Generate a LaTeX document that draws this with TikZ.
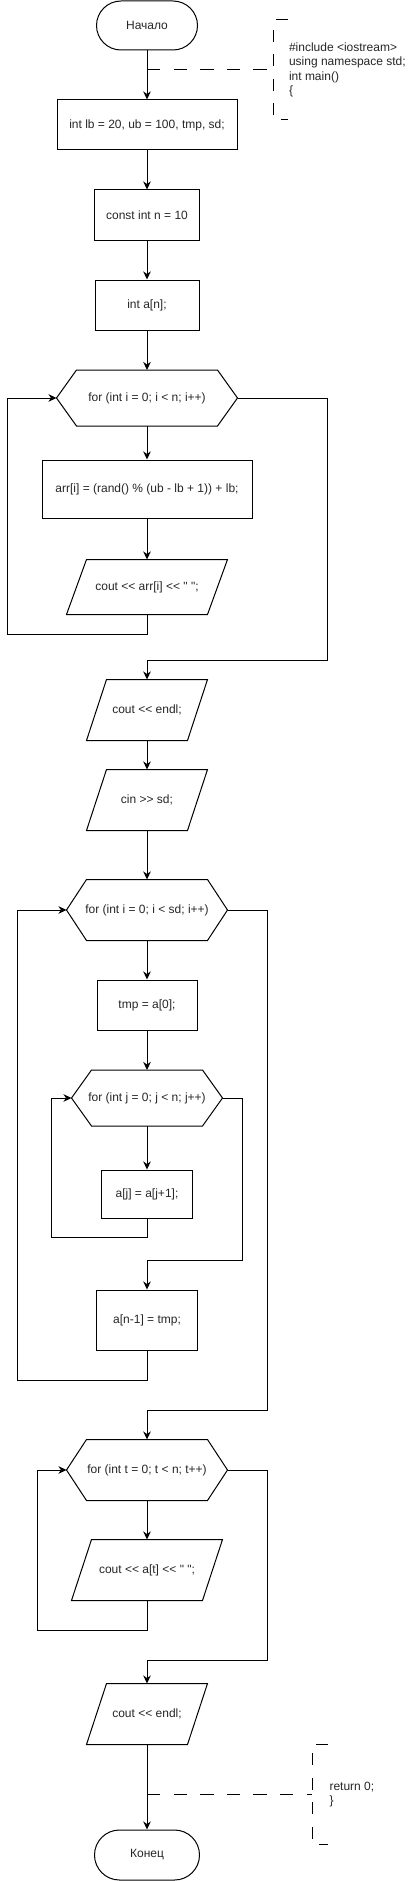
\documentclass[tikz,border=0pt]{standalone}
\usepackage{fontspec}
\setmainfont{Liberation Sans}[Ligatures=TeXOff]
\usetikzlibrary{arrows.meta,shapes.misc}
\newcommand{\hexoutline}[1]{\draw ([xshift=20pt]#1.north west) -- ([xshift=-20pt]#1.north east) -- (#1.east) -- ([xshift=-20pt]#1.south east) -- ([xshift=20pt]#1.south west) -- (#1.west) -- cycle;}
\newcommand{\paraoutline}[1]{\draw ([xshift=20pt]#1.north west) -- (#1.north east) -- ([xshift=-20pt]#1.south east) -- (#1.south west) -- cycle;}
\begin{document}
\begin{tikzpicture}[x=1pt,y=-1pt,line width=1pt,
  every node/.style={font=\fontsize{12}{14.5}\selectfont,inner sep=0pt,text=black!85},
  procbox/.style={draw,rectangle},
  frame/.style={rectangle},
  term/.style={draw,rounded rectangle},
  flow/.style={-{Stealth[length=8pt,width=7.5pt,inset=2.5pt]}},
  commentline/.style={dash pattern=on 13.3pt off 13.3pt},
  bracket/.style={dash pattern=on 12pt off 12.5pt}]
\useasboundingbox (0,0) rectangle (407,1881);

% nodes
\node[term,minimum width=101pt,minimum height=49pt] (start) at (147,25.5) {Начало};
\node[procbox,minimum width=180pt,minimum height=50pt] (b1) at (147,125) {int lb = 20, ub = 100, tmp, sd;};
\node[procbox,minimum width=105pt,minimum height=50pt] (b2) at (147,215) {const int n = 10};
\node[procbox,minimum width=104pt,minimum height=50pt] (b3) at (147,305) {int a[n];};
\node[frame,minimum width=180pt,minimum height=55pt] (h1) at (147,398) {for (int i = 0; i < n; i++)};
\node[procbox,minimum width=210pt,minimum height=58pt] (b4) at (147,489) {arr[i] = (rand() \% (ub - lb + 1)) + lb;};
\node[frame,minimum width=160pt,minimum height=54pt] (p1) at (147,587) {cout << arr[i] << " ";};
\node[frame,minimum width=120pt,minimum height=60pt] (p2) at (147,710) {cout << endl;};
\node[frame,minimum width=120pt,minimum height=60pt] (p3) at (147,800) {cin >> sd;};
\node[frame,minimum width=160pt,minimum height=60pt] (h2) at (147,910) {for (int i = 0; i < sd; i++)};
\node[procbox,minimum width=100pt,minimum height=50pt] (b5) at (147,1005) {tmp = a[0];};
\node[frame,minimum width=150pt,minimum height=55pt] (h3) at (147,1098) {for (int j = 0; j < n; j++)};
\node[procbox,minimum width=91pt,minimum height=48pt] (b6) at (147,1194) {a[j] = a[j+1];};
\node[procbox,minimum width=101pt,minimum height=60pt] (b7) at (147,1320) {a[n-1] = tmp;};
\node[frame,minimum width=160pt,minimum height=60pt] (h4) at (147,1470) {for (int t = 0; t < n; t++)};
\node[frame,minimum width=150pt,minimum height=60pt] (p4) at (147,1570) {cout << a[t] << " ";};
\node[frame,minimum width=120pt,minimum height=60pt] (p5) at (147,1714) {cout << endl;};
\node[term,minimum width=105pt,minimum height=50pt] (end) at (147,1855) {Конец};

% outlines
\hexoutline{h1}
\hexoutline{h2}
\hexoutline{h3}
\hexoutline{h4}
\paraoutline{p1}
\paraoutline{p2}
\paraoutline{p3}
\paraoutline{p4}
\paraoutline{p5}

% straight connectors
\draw[flow] (start) -- (b1);
\draw[flow] (b1) -- (b2);
\draw[flow] (b2) -- (b3);
\draw[flow] (b3) -- (h1);
\draw[flow] (h1) -- (b4);
\draw[flow] (b4) -- (p1);
\draw[flow] (p2) -- (p3);
\draw[flow] (p3) -- (h2);
\draw[flow] (h2) -- (b5);
\draw[flow] (b5) -- (h3);
\draw[flow] (h3) -- (b6);
\draw[flow] (h4) -- (p4);
\draw[flow] (p5) -- (end);

% loops
\draw[flow] (p1.south) |- (7.3,634) |- (h1.west);
\draw[flow] (h1.east) -| (327.3,660) -| (p2.north);
\draw[flow] (b6.south) |- (51.7,1237.7) |- (h3.west);
\draw[flow] (h3.east) -| (242.3,1260) -| (b7.north);
\draw[flow] (b7.south) |- (17.3,1380) |- (h2.west);
\draw[flow] (h2.east) -| (267.3,1410) -| (h4.north);
\draw[flow] (p4.south) |- (37.3,1630) |- (h4.west);
\draw[flow] (h4.east) -| (267.3,1660) -| (p5.north);

% comments
\coordinate (cm1) at (147,70);
\coordinate (br1) at (273,70);
\draw[commentline] (cm1) -- (br1);
\draw[bracket] (287.7,20) -- (273,20) -- (273,120) -- (287.7,120);
\node[anchor=west,align=left] (c1) at (288.5,70) {\#include <iostream>\\using namespace std;\\int main()\\\{};

\coordinate (cm2) at (147,1794.3);
\coordinate (br2) at (312.3,1794.3);
\draw[commentline] (cm2) -- (br2);
\draw[bracket] (327.7,1744.3) -- (312.3,1744.3) -- (312.3,1844.3) -- (327.7,1844.3);
\node[anchor=west,align=left] (c2) at (329,1794.5) {return 0;\\\}};
\end{tikzpicture}
\end{document}
